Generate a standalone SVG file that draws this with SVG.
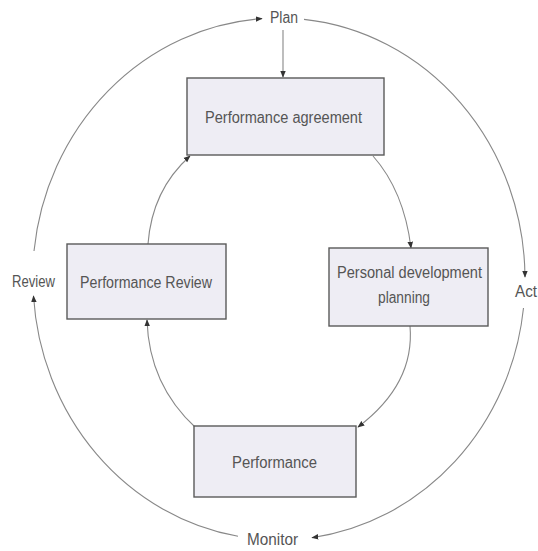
<svg xmlns="http://www.w3.org/2000/svg" width="538" height="551" viewBox="0 0 538 551">
  <style>
    .box { fill: #eeedf4; stroke: #5a5a5a; stroke-width: 1.4; }
    .lbl { font-family: "Liberation Sans", Arial, sans-serif; font-size: 16px; fill: #555; }
    .link { fill: none; stroke: #888; stroke-width: 1.1; }
  </style>
  <defs>
    <marker id="arrow" viewBox="0 0 10 10" refX="9" refY="5" markerWidth="7" markerHeight="7" markerUnits="userSpaceOnUse" orient="auto">
      <path d="M0 1 L10 5 L0 9 Z" fill="#333"/>
    </marker>
  </defs>
  <rect width="538" height="551" fill="#ffffff"/>

  <g id="connectors">
    <!-- outer cycle: Plan, Act, Monitor, Review -->
    <path class="link" d="M 34 251 A 246 261 0 0 1 262 18.6" marker-end="url(#arrow)"/>
    <path class="link" d="M 304 19.4 A 246 261 0 0 1 525 277" marker-end="url(#arrow)"/>
    <path class="link" d="M 523.5 308 A 246 261 0 0 1 312 537.7" marker-end="url(#arrow)"/>
    <path class="link" d="M 238 536.3 A 246 261 0 0 1 33.5 296" marker-end="url(#arrow)"/>
    <!-- Plan feeds the agreement -->
    <path class="link" d="M 283 30 L 283 77" marker-end="url(#arrow)"/>
    <!-- inner cycle -->
    <path class="link" d="M 148 244 Q 152 190 190 156" marker-end="url(#arrow)"/>
    <path class="link" d="M 373 156 Q 404 191 411 248" marker-end="url(#arrow)"/>
    <path class="link" d="M 410 326 Q 415 384 358 427" marker-end="url(#arrow)"/>
    <path class="link" d="M 196 428 Q 149 385 147 320" marker-end="url(#arrow)"/>
  </g>

  <g id="node-agreement">
    <rect class="box" x="187" y="78" width="197" height="77"/>
    <text class="lbl" x="283.5" y="123" text-anchor="middle" textLength="157" lengthAdjust="spacingAndGlyphs">Performance agreement</text>
  </g>

  <g id="node-review">
    <rect class="box" x="67" y="244" width="159" height="75"/>
    <text class="lbl" x="146" y="288" text-anchor="middle" textLength="132" lengthAdjust="spacingAndGlyphs">Performance Review</text>
  </g>

  <g id="node-development">
    <rect class="box" x="329" y="248" width="159" height="78"/>
    <text class="lbl" x="409.5" y="278" text-anchor="middle" textLength="145" lengthAdjust="spacingAndGlyphs">Personal development</text>
    <text class="lbl" x="404" y="303" text-anchor="middle" textLength="52" lengthAdjust="spacingAndGlyphs">planning</text>
  </g>

  <g id="node-performance">
    <rect class="box" x="194" y="426" width="162" height="71"/>
    <text class="lbl" x="274.5" y="468" text-anchor="middle" textLength="85" lengthAdjust="spacingAndGlyphs">Performance</text>
  </g>

  <g id="node-plan">
    <text class="lbl" x="284" y="23" text-anchor="middle" textLength="28" lengthAdjust="spacingAndGlyphs">Plan</text>
  </g>
  <g id="node-act">
    <text class="lbl" x="526" y="297" text-anchor="middle" textLength="22" lengthAdjust="spacingAndGlyphs">Act</text>
  </g>
  <g id="node-monitor">
    <text class="lbl" x="272.5" y="545" text-anchor="middle" textLength="51" lengthAdjust="spacingAndGlyphs">Monitor</text>
  </g>
  <g id="node-review-label">
    <text class="lbl" x="33.5" y="287" text-anchor="middle" textLength="43" lengthAdjust="spacingAndGlyphs">Review</text>
  </g>
</svg>
